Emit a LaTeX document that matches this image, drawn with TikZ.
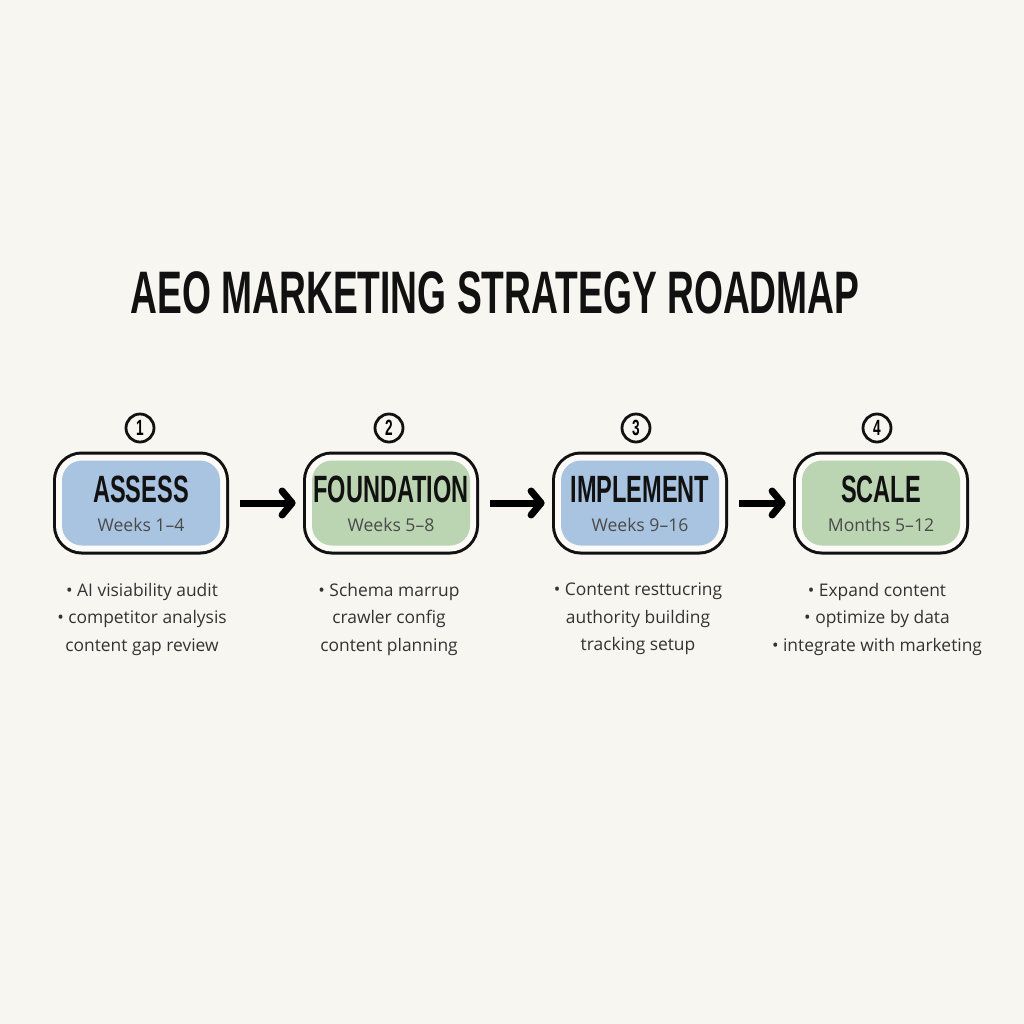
\documentclass[tikz,border=0pt]{standalone}
\usepackage{fontspec}
\setmainfont{Open Sans}
\newfontfamily\condfont[FakeStretch=0.62]{Liberation Sans}
\usepackage{tikz}
\usepackage{xcolor}
\usetikzlibrary{arrows.meta, positioning, calc}
\definecolor{paper}{HTML}{F7F6F1}
\definecolor{ringwhite}{HTML}{FCFBF8}
\definecolor{inkblack}{HTML}{111111}
\definecolor{stageblue}{HTML}{A9C4E0}
\definecolor{stagegreen}{HTML}{BBD4B1}
\definecolor{weekgray}{HTML}{4A4A4A}
\definecolor{notegray}{HTML}{333333}

\begin{document}
\begin{tikzpicture}[x=0.5pt, y=-0.5pt,
    stage/.style={rounded corners=10pt, minimum width=79pt, minimum height=42.5pt, inner sep=0pt,
        preaction={draw=inkblack, line width=9pt},
        preaction={draw=ringwhite, line width=6pt}},
    phase/.style={font=\condfont\bfseries\fontsize{19}{19}\selectfont, text=inkblack, inner sep=0pt},
    weeks/.style={font=\fontsize{8.8}{10}\selectfont, text=weekgray, inner sep=0pt},
    num/.style={circle, draw=inkblack, line width=1.4pt, minimum size=14pt, inner sep=0pt,
        font=\condfont\bfseries\fontsize{11}{11}\selectfont},
    notes/.style={align=center, font=\fontsize{8.7}{13.75}\selectfont, text=notegray, inner sep=0pt},
    flow/.style={line width=3.5pt, -{Straight Barb[length=5pt, width=12pt, round]},
        shorten <=10pt, shorten >=8pt}]
    \fill[paper] (0,0) rectangle (1024,1024);
    \useasboundingbox (0,0) rectangle (1024,1024);

    \node[font=\condfont\bfseries\fontsize{30}{30}\selectfont, text=inkblack] (title) at (495,293)
        {AEO MARKETING STRATEGY ROADMAP};

    % stages
    \node[stage, fill=stageblue] (assess) at (141,503) {};
    \node[stage, fill=stagegreen] (found) at (391,503) {};
    \node[stage, fill=stageblue] (impl) at (640,503) {};
    \node[stage, fill=stagegreen] (scale) at (881,503) {};

    \node[phase] (assess-t) at (141,489) {ASSESS};
    \node[weeks] (assess-w) at (141,525) {Weeks 1--4};
    \node[phase] (found-t) at (391,489) {FOUNDATION};
    \node[weeks] (found-w) at (391,525) {Weeks 5--8};
    \node[phase] (impl-t) at (640,489) {IMPLEMENT};
    \node[weeks] (impl-w) at (640,525) {Weeks 9--16};
    \node[phase] (scale-t) at (881,489) {SCALE};
    \node[weeks] (scale-w) at (881,525) {Months 5--12};

    \node[num] (n1) at (140,428) {1};
    \node[num] (n2) at (389,428) {2};
    \node[num] (n3) at (636,428) {3};
    \node[num] (n4) at (877,428) {4};

    \draw[flow] (assess) -- (found);
    \draw[flow] (found) -- (impl);
    \draw[flow] (impl) -- (scale);

    % what happens in each phase
    \node[notes] (assess-n) at (142,619)
        {\textbullet\ AI visiability audit\\ \textbullet\ competitor analysis\\ content gap review};
    \node[notes] (found-n) at (389,619)
        {\textbullet\ Schema marrup\\ crawler config\\ content planning};
    \node[notes] (impl-n) at (638,619)
        {\textbullet\ Content resttucring\\ authority building\\ tracking setup};
    \node[notes] (scale-n) at (877,619)
        {\textbullet\ Expand content\\ \textbullet\ optimize by data\\ \textbullet\ integrate with marketing};
\end{tikzpicture}
\end{document}
